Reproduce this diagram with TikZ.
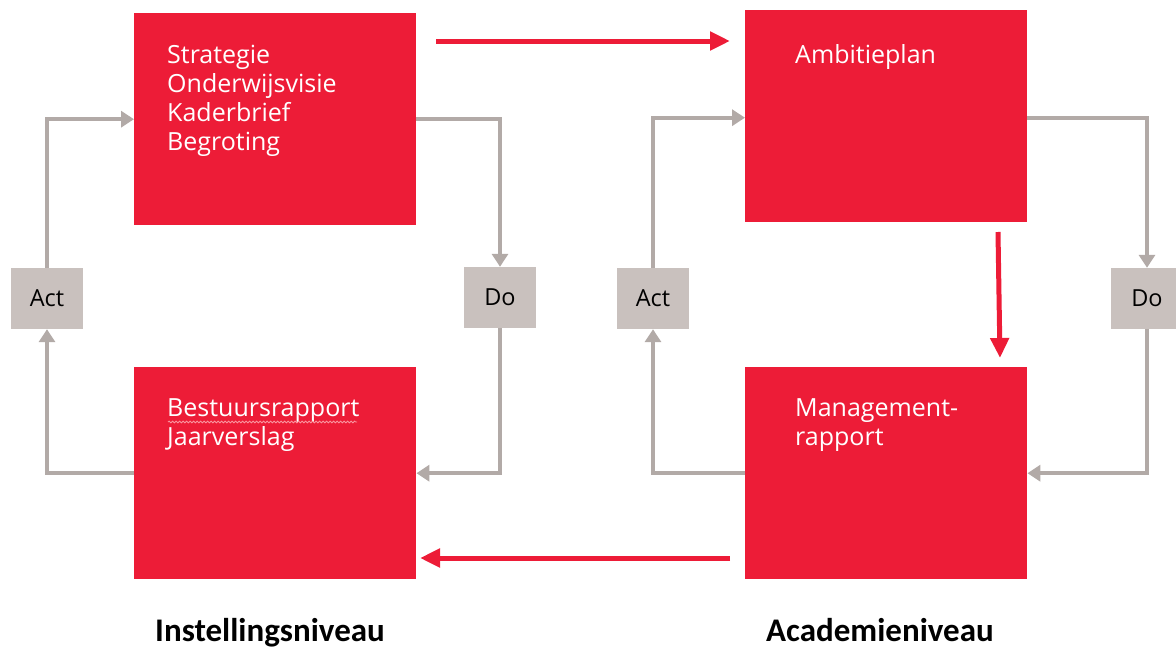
\documentclass[tikz,border=0pt]{standalone}
\usepackage{fontspec}
\setmainfont{Open Sans}
\newfontfamily\labelfont{Carlito}
\usetikzlibrary{arrows.meta,decorations.pathmorphing}
\definecolor{boxred}{RGB}{237,28,55}
\definecolor{pdcagray}{RGB}{201,193,190}
\definecolor{linegray}{RGB}{178,170,167}
\definecolor{squiggle}{RGB}{250,150,160}
\begin{document}
\begin{tikzpicture}[x=1pt,y=-1pt,
  redbox/.style={fill=boxred,draw=none,minimum width=282pt,minimum height=212pt,anchor=north west,inner sep=0pt},
  stagebox/.style={fill=pdcagray,draw=none,minimum width=72pt,minimum height=61pt,inner sep=0pt,font=\fontsize{23.5}{27}\selectfont,text=black},
  boxtext/.style={anchor=base west,inner sep=0pt,text=white,font=\fontsize{25}{29}\selectfont},
  garrow/.style={draw=linegray,line width=4pt,-{Triangle[length=13pt,width=16pt]}},
  rarrow/.style={draw=boxred,line width=5pt,-{Triangle[length=20pt,width=18pt]}},
  level/.style={anchor=base,inner sep=0pt,font=\labelfont\bfseries\fontsize{33}{38}\selectfont}]
\useasboundingbox (0,0) rectangle (1176,648);
\clip (0,0) rectangle (1176,648);

% red boxes
\node[redbox] (tl) at (134,13) {};
\node[redbox] (bl) at (134,367) {};
\node[redbox] (tr) at (745,10) {};
\node[redbox] (br) at (745,367) {};

% texts in boxes
\node[boxtext] (tltext) at (167,63) {\begin{tabular}[t]{@{}l@{}}Strategie\\Onderwijsvisie\\Kaderbrief\\Begroting\end{tabular}};
\node[boxtext] (bltext) at (167,416) {\begin{tabular}[t]{@{}l@{}}Bestuursrapport\\Jaarverslag\end{tabular}};
\node[boxtext] (trtext) at (795,63) {Ambitieplan};
\node[boxtext] (brtext) at (795,416) {\begin{tabular}[t]{@{}l@{}}Management-\\rapport\end{tabular}};
\draw[squiggle,line width=0.8pt,decorate,decoration={snake,amplitude=0.9pt,segment length=3.5pt}] (168,422) -- (357,422);

% stage boxes
\node[stagebox] (act1) at (47,298.5) {Act};
\node[stagebox] (do1) at (500,297.5) {Do};
\node[stagebox] (act2) at (653,298.5) {Act};
\node[stagebox] (do2) at (1147,298.5) {Do};

% gray cycle arrows, left
\draw[garrow] (tl.east) -| (do1.north);
\draw[garrow] (do1.south) |- (bl.east);
\draw[garrow] (bl.west) -| (act1.south);
\draw[garrow] (act1.north) |- (tl.west);

% gray cycle arrows, right
\draw[garrow] ([yshift=-1.5pt]tr.east) -| (do2.north);
\draw[garrow] (do2.south) |- (br.east);
\draw[garrow] (br.west) -| (act2.south);
\draw[garrow] (act2.north) |- ([yshift=-1.5pt]tr.west);

% red arrows
\coordinate (r1s) at (436,41);
\coordinate (r1e) at (730,41);
\coordinate (r2s) at (998,232);
\coordinate (r2e) at (1000,358);
\coordinate (r3s) at (730,558);
\coordinate (r3e) at (420,558);
\draw[rarrow] (r1s) -- (r1e);
\draw[rarrow] (r2s) -- (r2e);
\draw[rarrow] (r3s) -- (r3e);

% level labels
\node[level] (lvl1) at (270,641) {Instellingsniveau};
\node[level] (lvl2) at (880,641) {Academieniveau};
\end{tikzpicture}
\end{document}
